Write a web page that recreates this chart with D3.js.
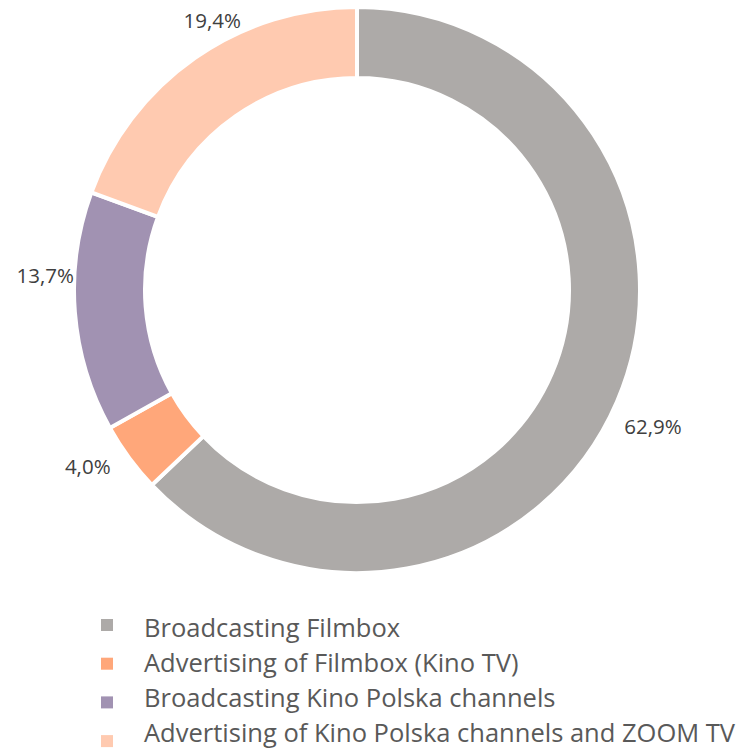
<!DOCTYPE html>
<html lang="en">
  <head>
    <meta charset="UTF-8">
    <title>Revenue structure</title>
    <style>
      body { margin: 0; background: #fff; }
      text { font-family: "Open Sans", sans-serif; }
    </style>
  </head>
  <body>
<div id="my_dataviz"></div>
<script src="https://d3js.org/d3.v7.min.js"></script>
<script>

// data
var categories = ["Broadcasting Filmbox", "Advertising of Filmbox (Kino TV)", "Broadcasting Kino Polska channels", "Advertising of Kino Polska channels and ZOOM TV"]
var shares = [62.9, 4.0, 13.7, 19.4]
var labels = ["62,9%", "4,0%", "13,7%", "19,4%"]
var colors = ["#ADAAA8", "#FFA77A", "#A192B2", "#FFCAB0"]

// label placement (angle shift in degrees, distance from centre)
var labelShift = [1.6, 3.1, 7.1, 6.7]
var labelRadius = [326, 322, 312, 306]

var width = 737,
    height = 751,
    cx = 357,
    cy = 290,
    outer = 283,
    inner = 212

var svg = d3.select("#my_dataviz")
  .append("svg")
    .attr("width", width)
    .attr("height", height)

var g = svg.append("g")
    .attr("transform", "translate(" + cx + "," + cy + ")")

var pie = d3.pie().sort(null).value(function(d) { return d })
var data_ready = pie(shares)

var arc = d3.arc().innerRadius(inner).outerRadius(outer)

g.selectAll("path")
  .data(data_ready)
  .enter()
  .append("path")
    .attr("d", arc)
    .attr("fill", function(d, i) { return colors[i] })
    .attr("stroke", "white")
    .style("stroke-width", "4px")

// percentage labels outside the ring
g.selectAll("text.lbl")
  .data(data_ready)
  .enter()
  .append("text")
    .attr("class", "lbl")
    .attr("transform", function(d, i) {
      var a = (d.startAngle + d.endAngle) / 2 + labelShift[i] * Math.PI / 180
      var r = labelRadius[i]
      return "translate(" + (r * Math.sin(a)) + "," + (-r * Math.cos(a)) + ")"
    })
    .attr("text-anchor", "middle")
    .attr("dy", "0.35em")
    .style("font-size", "20.5px")
    .style("fill", "#404040")
    .text(function(d, i) { return labels[i] })

// legend
var legend = svg.append("g")

legend.selectAll("rect")
  .data(categories)
  .enter()
  .append("rect")
    .attr("x", 101)
    .attr("y", function(d, i) { return 619 + i * 38.7 })
    .attr("width", 12)
    .attr("height", 12)
    .attr("fill", function(d, i) { return colors[i] })

legend.selectAll("text")
  .data(categories)
  .enter()
  .append("text")
    .attr("x", 144)
    .attr("y", function(d, i) { return 637 + i * 35 })
    .style("font-size", "25.5px")
    .style("fill", "#595959")
    .text(function(d) { return d })

</script>
  </body>
</html>
